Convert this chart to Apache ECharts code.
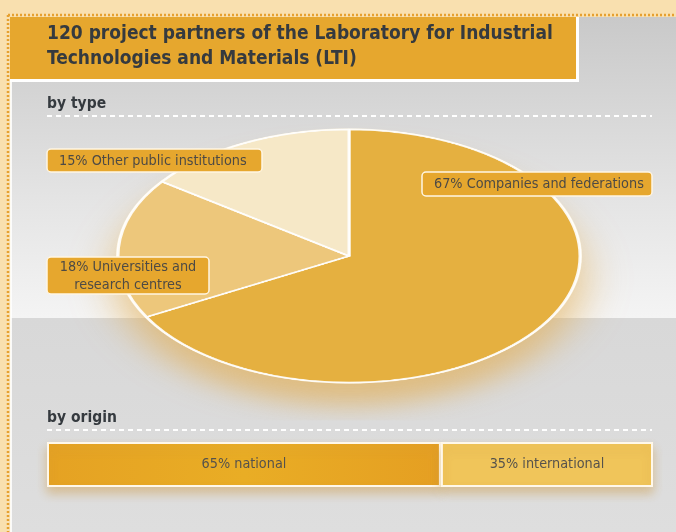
<!DOCTYPE html>
<html>
<head>
<meta charset="utf-8">
<script src="https://cdn.jsdelivr.net/npm/echarts@6/dist/echarts.min.js"></script>
<style>
  body { margin: 0; overflow: hidden; }
  #bg, #front { position: absolute; left: 0; top: 0; width: 676px; height: 532px; }
  /* the pie is drawn as a circle and squashed into the perspective ellipse */
  #pie { position: absolute; left: 0; top: -44px; width: 676px; height: 600px;
         transform: scaleY(0.5476); transform-origin: 50% 50%; }
</style>
</head>
<body>
<div id="bg"></div>
<div id="pie"></div>
<div id="front"></div>
<script>
var titleText = '120 project partners of the Laboratory for Industrial\nTechnologies and Materials (LTI)';
var typeNames = ['Companies and federations', 'Universities and\nresearch centres', 'Other public institutions'];
var typeShares = [67, 18, 15];
var originNames = ['national', 'international'];
var originShares = [65, 35];

var FONT = "'DejaVu Sans Condensed', Roboto, sans-serif";
var INK = '#353a3f';

// background, title, section heads, origin bar
var bg = echarts.init(document.getElementById('bg'));
bg.setOption({
    animation: false,
    title: {
        text: titleText,
        left: 47, top: 22, padding: 0,
        textStyle: { fontFamily: FONT, fontSize: 19, fontWeight: 'bold', color: INK, lineHeight: 25 }
    },
    graphic: [
        { type: 'rect', z: -10, shape: { x: 0, y: 0, width: 676, height: 532 }, style: { fill: '#f9e0af' } },
        { type: 'rect', z: -9, shape: { x: 11, y: 17, width: 665, height: 301 },
          style: { fill: new echarts.graphic.LinearGradient(0, 0, 0, 1, [
              { offset: 0, color: '#c9c9c9' }, { offset: 0.6, color: '#e4e4e4' }, { offset: 1, color: '#f4f4f4' }]) } },
        { type: 'rect', z: -9, shape: { x: 11, y: 318, width: 665, height: 214 },
          style: { fill: new echarts.graphic.LinearGradient(0, 0, 0, 1, [
              { offset: 0, color: '#d8d8d8' }, { offset: 1, color: '#dedede' }]) } },
        { type: 'rect', z: -8, shape: { x: 10, y: 17, width: 2, height: 515 }, style: { fill: 'rgba(255,255,255,0.85)' } },
        { type: 'line', z: -7, shape: { x1: 8, y1: 15, x2: 676, y2: 15 },
          style: { stroke: '#e6a030', lineWidth: 2.5, lineDash: [2, 2] } },
        { type: 'line', z: -7, shape: { x1: 8, y1: 15, x2: 8, y2: 532 },
          style: { stroke: '#e6a030', lineWidth: 2.5, lineDash: [2, 2] } },
        { type: 'rect', z: -6, shape: { x: 10, y: 17, width: 569, height: 65 }, style: { fill: '#ffffff' } },
        { type: 'rect', z: -5, shape: { x: 10, y: 17, width: 566, height: 62 }, style: { fill: '#e6a72e' } },
        { type: 'text', x: 47, y: 104, style: { text: 'by type', fontFamily: FONT, fontSize: 15.5, fontWeight: 'bold',
          fill: INK, verticalAlign: 'middle' } },
        { type: 'line', shape: { x1: 47, y1: 116, x2: 652, y2: 116 },
          style: { stroke: '#ffffff', lineWidth: 2, lineDash: [5, 4] } },
        { type: 'text', x: 47, y: 418, style: { text: 'by origin', fontFamily: FONT, fontSize: 15.5, fontWeight: 'bold',
          fill: INK, verticalAlign: 'middle' } },
        { type: 'line', shape: { x1: 47, y1: 430, x2: 652, y2: 430 },
          style: { stroke: '#ffffff', lineWidth: 2, lineDash: [5, 4] } }
    ],
    grid: { left: 47, top: 442, width: 606, height: 45 },
    xAxis: { type: 'value', min: 0, max: 100, show: false },
    yAxis: { type: 'category', data: ['origin'], show: false },
    series: originNames.map(function (n, i) {
        return {
            type: 'bar', name: n, stack: 'origin', barWidth: 45, silent: true,
            data: [originShares[i]],
            itemStyle: {
                color: i === 0
                    ? new echarts.graphic.LinearGradient(0, 0, 1, 0, [
                        { offset: 0, color: '#e5a223' }, { offset: 0.5, color: '#e9ad25' }, { offset: 1, color: '#e59f22' }])
                    : '#f0c55a',
                borderColor: '#fff8ea', borderWidth: 2,
                shadowColor: 'rgba(205,150,60,0.45)', shadowBlur: 10, shadowOffsetY: 6
            },
            label: {
                show: true, position: 'inside', formatter: '{c}% {a}',
                fontFamily: FONT, fontSize: 14.3, color: '#55524c'
            }
        };
    })
});

// pie, by type (a glow disc underneath, the slices on top)
var pie = echarts.init(document.getElementById('pie'));
pie.setOption({
    animation: false,
    series: [{
        type: 'pie', silent: true, center: [349, 300], radius: 233,
        label: { show: false }, labelLine: { show: false },
        data: [{ name: 'glow', value: 1 }],
        itemStyle: { color: '#fbf3e0', shadowColor: 'rgba(226,170,72,0.6)', shadowBlur: 44, shadowOffsetY: 40 }
    }, {
        type: 'pie', silent: true,
        center: [349, 300], radius: 231,
        startAngle: 90, clockwise: true,
        label: { show: false }, labelLine: { show: false },
        data: typeNames.map(function (n, i) { return { name: n, value: typeShares[i] }; }),
        color: ['#e5b040', '#edc77b', '#f6e8c7'],
        itemStyle: { borderColor: 'rgba(255,255,255,0.9)', borderWidth: 3 }
    }]
});

// label boxes over the pie
var boxes = [
    { x: 422, y: 172, w: 230, h: 24, align: 'left' },
    { x: 47, y: 257, w: 162, h: 37, align: 'center' },
    { x: 47, y: 149, w: 215, h: 23, align: 'left' }
];
var front = echarts.init(document.getElementById('front'));
var labelEls = [];
typeNames.forEach(function (n, i) {
    var b = boxes[i];
    labelEls.push({ type: 'rect', shape: { x: b.x, y: b.y, width: b.w, height: b.h, r: 4 },
        style: { fill: '#e6a72e', stroke: '#fff6e4', lineWidth: 1.5 } });
    labelEls.push({ type: 'text', z: 10,
        x: b.align === 'center' ? b.x + b.w / 2 : b.x + 12, y: b.y + b.h / 2 + 0.5,
        style: { text: typeShares[i] + '% ' + n, fontFamily: FONT, fontSize: 14.3, fill: '#4d4a45',
                 align: b.align, verticalAlign: 'middle', lineHeight: 18 } });
});
front.setOption({ animation: false, graphic: labelEls });
</script>
</body>
</html>
